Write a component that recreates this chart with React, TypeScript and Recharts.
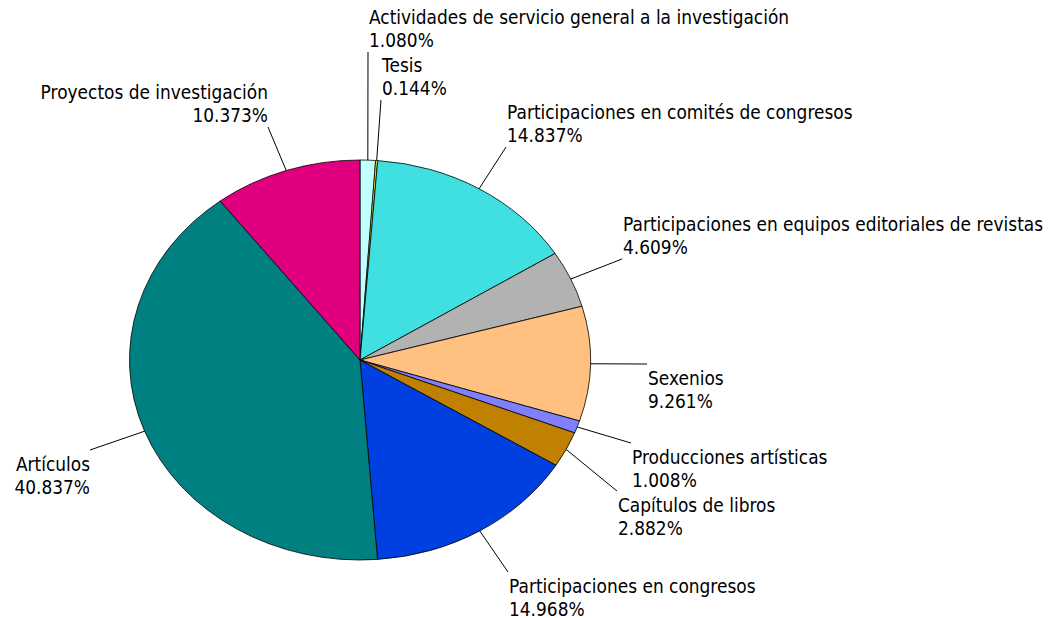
import React from 'react';
import { PieChart, Pie, Cell } from 'recharts';

// datos del grafico (porcentaje por tipo de actividad)
const categories = [
  'Actividades de servicio general a la investigación',
  'Tesis',
  'Participaciones en comités de congresos',
  'Participaciones en equipos editoriales de revistas',
  'Sexenios',
  'Producciones artísticas',
  'Capítulos de libros',
  'Participaciones en congresos',
  'Artículos',
  'Proyectos de investigación',
];

const shares = [1.08, 0.144, 14.837, 4.609, 9.261, 1.008, 2.882, 14.968, 40.837, 10.373];

const sliceColors = [
  '#BFFFFF',
  '#E8E83A',
  '#40E0E0',
  '#B2B2B2',
  '#FFC080',
  '#8080FF',
  '#C08000',
  '#0040E0',
  '#008080',
  '#E0007F',
];

// layout de etiquetas: fin de la linea guia relativo al centro, lado del texto
const leaderEnds: [number, number][] = [
  [8, -308],
  [21, -260],
  [146, -213],
  [262, -101],
  [287, 4],
  [271, 83],
  [257, 131],
  [148, 212],
  [-270, 90],
  [-92, -233],
];
const labelAbove = [true, true, true, true, false, false, false, false, false, true];

const data = categories.map((name, i) => ({ name, value: shares[i] }));

const CX = 360;
const CY = 360;
const RY = 200;
const RX = 230.5; // el pastel esta estirado en horizontal
const FONT = '"DejaVu Sans", Verdana, sans-serif';
const FONT_SIZE = 19;
const TEXT_SX = 0.895; // DejaVu es mas ancha que la fuente original
const LINE_H = 23;

const RAD = Math.PI / 180;

const EllipseSlice = (props: any) => {
  const { cx, cy, outerRadius, startAngle, endAngle, fill } = props;
  const rx = outerRadius * (RX / RY);
  const ry = outerRadius;
  const x1 = cx + rx * Math.cos(startAngle * RAD);
  const y1 = cy - ry * Math.sin(startAngle * RAD);
  const x2 = cx + rx * Math.cos(endAngle * RAD);
  const y2 = cy - ry * Math.sin(endAngle * RAD);
  const large = Math.abs(startAngle - endAngle) > 180 ? 1 : 0;
  const sweep = startAngle > endAngle ? 1 : 0;
  const d = `M${cx},${cy} L${x1},${y1} A${rx},${ry} 0 ${large} ${sweep} ${x2},${y2} Z`;
  return <path d={d} fill={fill} stroke="#000" strokeWidth={0.8} strokeLinejoin="round" />;
};

const renderLabel = (props: any) => {
  const { cx, cy, midAngle, outerRadius, index, name, value } = props;
  const rx = outerRadius * (RX / RY);
  const sx = cx + rx * Math.cos(midAngle * RAD);
  const sy = cy - outerRadius * Math.sin(midAngle * RAD);
  const [dx, dy] = leaderEnds[index];
  const ex = cx + dx;
  const ey = cy + dy;
  const leftSide = dx < 0;
  const tx = leftSide ? ex : ex + 1;
  const y1 = labelAbove[index] ? ey - 5 - LINE_H : ey + 21;
  return (
    <g>
      <path d={`M${sx},${sy} L${ex},${ey}`} stroke="#000" strokeWidth={1} fill="none" />
      <text
        transform={`translate(${tx},${y1}) scale(${TEXT_SX},1)`}
        x={0}
        y={0}
        textAnchor={leftSide ? 'end' : 'start'}
        fontFamily={FONT}
        fontSize={FONT_SIZE}
        fill="#000"
      >
        <tspan x={0} y={0}>{name}</tspan>
        <tspan x={0} y={LINE_H}>{`${Number(value).toFixed(3)}%`}</tspan>
      </text>
    </g>
  );
};

export default function App() {
  return (
    <div style={{ position: 'absolute', left: 0, top: 0, width: 1049, height: 618, background: '#fff' }}>
      <PieChart width={1049} height={618} margin={{ top: 0, right: 0, bottom: 0, left: 0 }}>
        <Pie
          data={data}
          dataKey="value"
          nameKey="name"
          cx={CX}
          cy={CY}
          outerRadius={RY}
          startAngle={90}
          endAngle={-270}
          shape={EllipseSlice}
          activeShape={EllipseSlice}
          inactiveShape={EllipseSlice}
          label={renderLabel}
          labelLine={false}
          isAnimationActive={false}
        >
          {data.map((d, i) => (
            <Cell key={d.name} fill={sliceColors[i]} />
          ))}
        </Pie>
      </PieChart>
    </div>
  );
}
